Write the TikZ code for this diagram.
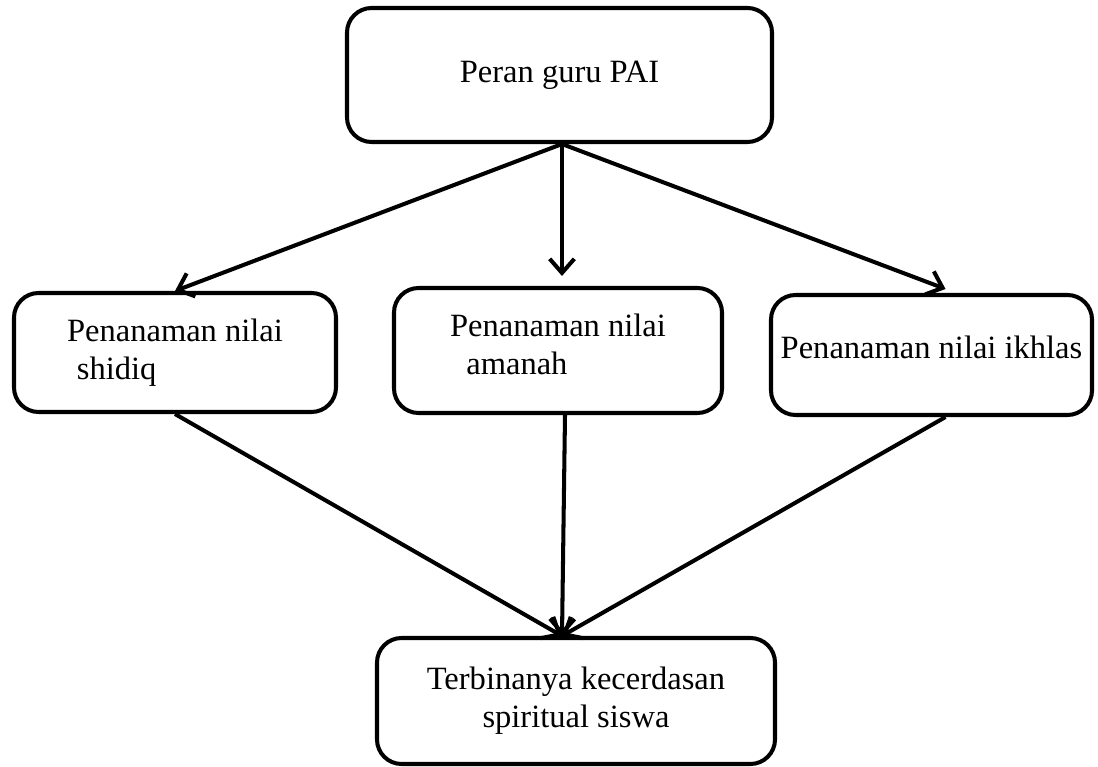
\documentclass[tikz,border=0pt]{standalone}
\usepackage{fontspec}
\setmainfont{Liberation Serif}
\usetikzlibrary{arrows.meta}

\begin{document}
\begin{tikzpicture}[x=1cm, y=1cm, font=\fontsize{18.5}{21.6}\selectfont]
        \tikzset{
            box/.style={
                draw=black,
                line width=2.3pt,
                rounded corners=14pt,
                align=center,
                inner sep=0pt
            },
            arrow/.style={-{Straight Barb[length=8pt,width=14pt,line width=2.3pt]}, line width=2.3pt, draw=black}
        }
        \useasboundingbox (0, 0) rectangle (21.96, -15.34);

        \node[box, minimum width=8.5cm, minimum height=2.68cm] (peran) at (11.19, -1.5) {Peran guru PAI};
        \node[box, minimum width=6.44cm, minimum height=2.38cm, align=left] (shidiq) at (3.5, -7.05) {Penanaman nilai\\\hspace{0.3em}shidiq};
        \node[box, minimum width=6.56cm, minimum height=2.5cm, align=left, text depth=0.25cm] (amanah) at (11.16, -7.01) {Penanaman nilai\\\hspace{0.5em}amanah};
        \node[box, minimum width=6.42cm, minimum height=2.4cm, text depth=0.3cm] (ikhlas) at (18.63, -7.1) {Penanaman nilai ikhlas};
        \node[box, minimum width=7.96cm, minimum height=2.52cm] (hasil) at (11.52, -14.02) {Terbinanya kecerdasan\\spiritual siswa};

        \draw[arrow] ([xshift=0.05cm]peran.south) -- (shidiq.north);
        \draw[arrow, shorten >=0.2cm] ([xshift=0.05cm]peran.south) -- ([xshift=0.08cm]amanah.north);
        \draw[arrow] ([xshift=0.05cm]peran.south) -- ([xshift=0.28cm, yshift=0.08cm]ikhlas.north);

        \draw[arrow] (shidiq.south) -- ([xshift=-0.28cm]hasil.north);
        \draw[arrow] ([xshift=0.14cm]amanah.south) -- ([xshift=-0.28cm]hasil.north);
        \draw[arrow] ([xshift=0.28cm]ikhlas.south) -- ([xshift=-0.28cm]hasil.north);
    \end{tikzpicture}
\end{document}
